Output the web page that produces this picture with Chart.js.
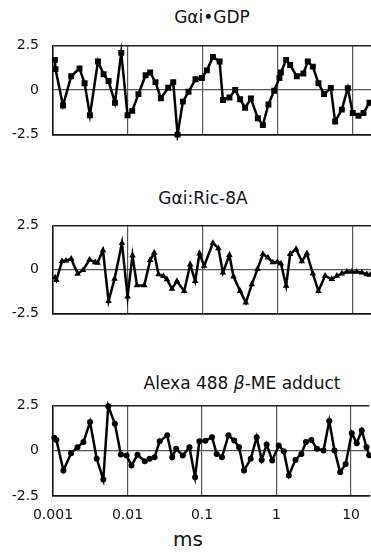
<!DOCTYPE html>
<html>
<head>
<meta charset="utf-8">
<script src="https://cdn.jsdelivr.net/npm/chart.js@4.4.0/dist/chart.umd.min.js"></script>
<style>
  html, body { margin: 0; padding: 0; background: #fff; overflow: hidden; }
  body { width: 371px; height: 552px; position: relative; font-family: "DejaVu Sans", sans-serif; color: #111; }
  .panel { position: absolute; left: 0; }
  .ttl { position: absolute; font-size: 17px; line-height: 20px; white-space: nowrap; transform: translateX(-50%); }
  .xlabel { position: absolute; font-size: 20px; line-height: 24px; transform: translateX(-50%); }
</style>
</head>
<body>
<div class="ttl" style="left:212px; top:7px">Gαi•GDP</div>
<div class="ttl" style="left:203px; top:188px">Gαi:Ric-8A</div>
<div class="ttl" style="left:242px; top:373px">Alexa 488 <i>β</i>-ME adduct</div>
<div class="xlabel" style="left:188px; top:527px">ms</div>

<canvas class="panel" id="c1" width="371" height="134" style="top:23px"></canvas>
<canvas class="panel" id="c2" width="371" height="133" style="top:203px"></canvas>
<canvas class="panel" id="c3" width="371" height="152" style="top:383px"></canvas>

<script>
// tick positions
const xTicks = [0.001, 0.01, 0.1, 1, 10];
const yTicks = [-2.5, 0, 2.5];
const X_MAX = 17.5; // reference is cut at the right edge

// Gαi•GDP residuals
const gdpTimes = [0.00106, 0.00108, 0.00136, 0.00175, 0.00226, 0.00264, 0.00311, 0.00398, 0.00473, 0.00551,
  0.00671, 0.00814, 0.00988, 0.0114, 0.0138, 0.0172, 0.0198, 0.0233, 0.0275, 0.0345,
  0.0402, 0.0459, 0.0541, 0.0643, 0.0797, 0.097, 0.113, 0.136, 0.167, 0.185,
  0.226, 0.27, 0.314, 0.366, 0.437, 0.541, 0.631, 0.749, 0.893, 1.05,
  1.1, 1.29, 1.46, 1.79, 2.19, 2.51, 2.93, 3.48, 4.14, 5.09,
  5.81, 7.14, 8.58, 10, 11.9, 13.9, 16.7];
const gdpValues = [1.69, 1.17, -0.87, 0.77, 1.21, 0.38, -1.42, 1.6, 0.88, 0.5,
  -0.71, 2.08, -1.42, -1.17, -0.23, 0.83, 0.98, 0.44, -0.46, 0.13,
  0.44, -2.5, -0.65, -0.1, 0.6, 0.67, 1.1, 1.85, 1.6, -0.56,
  -0.42, 0, -0.52, -1.0, -0.48, -1.58, -1.96, -0.81, -0.04, 0.67,
  0.98, 1.69, 1.4, 0.77, 0.92, 1.6, 1.31, 0.38, -0.23, 0.12,
  -1.77, -1.1, 0.1, -1.29, -1.44, -1.29, -0.71];

// Gαi:Ric-8A residuals
const ricTimes = [0.00107, 0.00111, 0.00132, 0.00149, 0.00175, 0.00213, 0.00251, 0.00308, 0.00366, 0.00393,
  0.00464, 0.00551, 0.00663, 0.00832, 0.00988, 0.0115, 0.0132, 0.0165, 0.0198, 0.0224,
  0.0256, 0.0298, 0.0331, 0.0386, 0.045, 0.0563, 0.0677, 0.0789, 0.0901, 0.104,
  0.136, 0.161, 0.185, 0.226, 0.256, 0.314, 0.374, 0.45, 0.535, 0.631,
  0.736, 0.858, 0.988, 1.1, 1.29, 1.46, 1.75, 2.09, 2.44, 2.93,
  3.48, 4.27, 5.25, 6.12, 7.14, 8.32, 9.7, 11.3, 13.2, 15.4, 17.0];
const ricValues = [-0.45, -0.6, 0.47, 0.5, 0.6, -0.24, -0.04, 0.56, 0.41, 0.38,
  1.09, -1.79, -0.53, 1.5, -1.54, 0.79, -0.9, -0.9, 0.53, 0.94,
  -0.28, -0.38, -0.56, -1.09, -0.66, -1.22, 0.28, -0.66, 0.9, 0.2,
  1.5, 1.2, -0.17, 0.82, -0.4, -1.22, -1.88, -0.84, 0.02, 0.87,
  0.68, 0.4, 0.44, 0.34, -0.93, 0.87, 1.16, 0.46, 0.91, -0.23,
  -1.22, -0.36, -0.55, -0.36, -0.23, -0.13, -0.13, -0.13, -0.17, -0.27, -0.3];

// Alexa 488 β-ME adduct residuals
const alexaTimes = [0.00104, 0.00111, 0.00138, 0.00175, 0.00213, 0.00256, 0.00314, 0.00386, 0.00473, 0.00551,
  0.00677, 0.00814, 0.0097, 0.0113, 0.0136, 0.017, 0.0198, 0.0231, 0.027, 0.0341,
  0.0398, 0.045, 0.0551, 0.0677, 0.0806, 0.092, 0.111, 0.136, 0.157, 0.185,
  0.226, 0.27, 0.314, 0.366, 0.45, 0.541, 0.631, 0.736, 0.874, 1.07,
  1.25, 1.46, 1.79, 2.15, 2.48, 2.93, 3.48, 4.27, 5.09, 5.99,
  7.14, 8.47, 10.2, 11.9, 13.9, 16.1, 17.5];
const alexaValues = [0.72, 0.6, -1.08, -0.13, 0.2, 0.48, 1.58, -0.44, -1.58, 2.46,
  1.49, -0.2, -0.26, -0.81, -0.22, -0.57, -0.44, -0.35, 0.53, 0.85,
  -0.35, 0.11, -0.26, 0.2, -1.45, 0.53, 0.55, 0.75, -0.17, -0.35,
  0.85, 0.57, 0.2, -1.08, -0.44, 0.75, -0.5, 0.35, -0.53, 0.29,
  -0.02, -1.36, -0.5, -0.17, 0.48, 0.6, 0.11, 0.02, 1.64, 0.02,
  -1.18, -0.72, 0.97, 0.42, 1.12, 0.2, -0.25];

const TICK_FONT = { family: "DejaVu Sans", size: 14 };

function makePanel(id, times, values, pointStyle, radius, showXLabels) {
  const pts = times.map((t, i) => ({ x: t, y: values[i] }));
  return new Chart(document.getElementById(id), {
    type: "line",
    data: {
      datasets: [{
        data: pts,
        borderColor: "#000",
        backgroundColor: "#000",
        borderWidth: 2.5,
        tension: 0,
        pointStyle: pointStyle,
        pointRadius: radius,
        pointBorderWidth: 0,
        clip: 6,
      }],
    },
    options: {
      responsive: false,
      animation: false,
      layout: { padding: 0, autoPadding: false },
      plugins: { legend: { display: false }, tooltip: { enabled: false } },
      scales: {
        x: {
          type: "logarithmic",
          min: 0.001,
          max: X_MAX,
          afterBuildTicks: (s) => { s.ticks = xTicks.map((v) => ({ value: v })); },
          ticks: {
            display: showXLabels,
            autoSkip: false,
            maxRotation: 0,
            padding: 11,
            color: "#111",
            font: TICK_FONT,
            callback: (v) => String(v),
          },
          grid: { color: "#555", lineWidth: 1.2, drawTicks: false },
          border: { color: "#111", width: 1.5 },
        },
        y: {
          min: -2.5,
          max: 2.5,
          afterBuildTicks: (s) => { s.ticks = yTicks.map((v) => ({ value: v })); },
          afterFit: (s) => { s.width = 53; },
          ticks: {
            padding: 14,
            color: "#111",
            font: TICK_FONT,
            callback: (v) => String(v),
          },
          grid: {
            drawTicks: false,
            color: (ctx) => (ctx.tick && ctx.tick.value === 0 ? "#555" : "#222"),
            lineWidth: (ctx) => (ctx.tick && ctx.tick.value === 0 ? 1.2 : 1.5),
          },
          border: { color: "#111", width: 1.5 },
        },
      },
    },
  });
}

makePanel("c1", gdpTimes, gdpValues, "rect", 4.2, false);
makePanel("c2", ricTimes, ricValues, "triangle", 3.8, false);
makePanel("c3", alexaTimes, alexaValues, "circle", 3, true);
</script>
</body>
</html>
